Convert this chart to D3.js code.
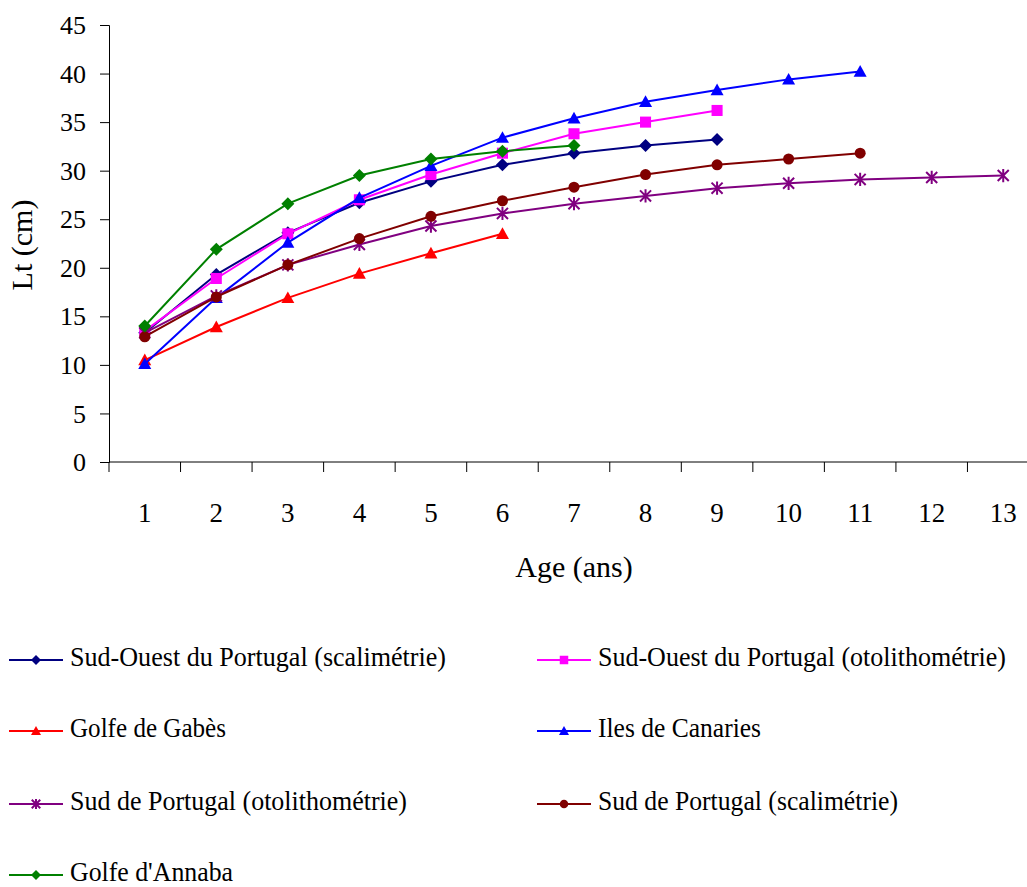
<!DOCTYPE html>
<html>
<head>
<meta charset="utf-8">
<script src="https://cdn.jsdelivr.net/npm/d3@7"></script>
<style>
  html, body { margin: 0; padding: 0; background: #fff; }
</style>
</head>
<body>
<svg id="chart" width="1027" height="887"></svg>
<script>
// Ages (years)
const ages = [1, 2, 3, 4, 5, 6, 7, 8, 9, 10, 11, 12, 13];
const yTicks = [0, 5, 10, 15, 20, 25, 30, 35, 40, 45];

// Total length (cm) at age, per study
const sudOuestScal  = [13.3, 19.3, 23.6, 26.7, 28.9, 30.6, 31.8, 32.6, 33.2];
const sudOuestOtol  = [13.5, 18.9, 23.5, 27.0, 29.6, 31.8, 33.8, 35.0, 36.2];
const gabes         = [10.5, 13.9, 16.9, 19.4, 21.5, 23.5];
const canaries      = [10.1, 16.9, 22.6, 27.2, 30.5, 33.4, 35.4, 37.1, 38.3, 39.4, 40.2];
const sudOtol       = [13.3, 17.1, 20.3, 22.4, 24.3, 25.6, 26.6, 27.4, 28.2, 28.7, 29.1, 29.3, 29.5];
const sudScal       = [12.9, 17.0, 20.3, 23.0, 25.3, 26.9, 28.3, 29.6, 30.6, 31.2, 31.8];
const annaba        = [14.0, 21.9, 26.6, 29.5, 31.2, 32.0, 32.6];

const seriesNames = [
  "Sud-Ouest du Portugal (scalimétrie)",
  "Sud-Ouest du Portugal (otolithométrie)",
  "Golfe de Gabès",
  "Iles de Canaries",
  "Sud de Portugal (otolithométrie)",
  "Sud de Portugal (scalimétrie)",
  "Golfe d'Annaba"
];
const seriesValues = [sudOuestScal, sudOuestOtol, gabes, canaries, sudOtol, sudScal, annaba];
const seriesColors = ["#000080", "#FF00FF", "#FF0000", "#0000FF", "#800080", "#800000", "#008000"];
const seriesMarkers = ["diamond", "square", "triangle", "triangle", "star", "circle", "diamond"];

const FONT = "'Liberation Serif', 'Times New Roman', serif";

const svg = d3.select("#chart");

const plot = { left: 109, top: 25, bottom: 462, right: 1039 };

const x = d3.scaleBand()
  .domain(ages)
  .range([plot.left, plot.right])
  .paddingInner(0).paddingOuter(0);

const y = d3.scaleLinear()
  .domain([0, 45])
  .range([plot.bottom, plot.top]);

// Y axis
const yAxis = svg.append("g")
  .attr("transform", `translate(${plot.left},0)`)
  .call(d3.axisLeft(y).tickValues(yTicks).tickSize(9).tickPadding(14).tickFormat(d3.format("d")));
yAxis.attr("font-family", null).attr("font-size", null);
yAxis.select(".domain").attr("stroke", "#000").attr("stroke-width", 1);
yAxis.selectAll(".tick line").attr("stroke", "#000");
yAxis.selectAll("text")
  .style("font-family", FONT).style("font-size", "26px")
  .attr("fill", "#000").attr("dy", "0.33em");

// X axis: category ticks sit at band boundaries, labels at band centres
const xAxisG = svg.append("g").attr("transform", `translate(0,${plot.bottom})`);
xAxisG.append("line")
  .attr("x1", plot.left).attr("x2", 1027)
  .attr("y1", 0).attr("y2", 0)
  .attr("stroke", "#000");
xAxisG.selectAll(".xtick").data(ages).enter().append("line")
  .attr("x1", d => x(d)).attr("x2", d => x(d))
  .attr("y1", 0).attr("y2", 10)
  .attr("stroke", "#000");
xAxisG.selectAll(".xlab").data(ages).enter().append("text")
  .attr("x", d => x(d) + x.bandwidth() / 2)
  .attr("y", 60)
  .attr("text-anchor", "middle")
  .style("font-family", FONT).style("font-size", "27px")
  .text(d => d);

// Axis titles
svg.append("text")
  .attr("x", 574).attr("y", 577)
  .attr("text-anchor", "middle")
  .style("font-family", FONT).style("font-size", "30px")
  .text("Age (ans)");
svg.append("text")
  .attr("transform", "translate(32,245) rotate(-90)")
  .attr("text-anchor", "middle")
  .style("font-family", FONT).style("font-size", "30px")
  .text("Lt (cm)");

// Marker drawing
function drawMarker(g, type, color, s) {
  if (type === "diamond") {
    g.append("path").attr("d", `M0,${-s}L${s},0L0,${s}L${-s},0Z`).attr("fill", color);
  } else if (type === "square") {
    const h = s * 0.85;
    g.append("rect").attr("x", -h).attr("y", -h).attr("width", 2 * h).attr("height", 2 * h).attr("fill", color);
  } else if (type === "triangle") {
    const h = s * 1.0;
    g.append("path").attr("d", `M0,${-h}L${h},${h * 0.8}L${-h},${h * 0.8}Z`).attr("fill", color);
  } else if (type === "circle") {
    g.append("circle").attr("r", s * 0.85).attr("fill", color);
  } else if (type === "star") {
    const h = s * 0.85;
    g.append("path")
      .attr("d", `M${-h},${-h}L${h},${h}M${h},${-h}L${-h},${h}M0,${-h * 1.2}L0,${h * 1.2}`)
      .attr("stroke", color).attr("stroke-width", 2).attr("fill", "none");
  }
}

const line = d3.line()
  .x((d, i) => x(ages[i]) + x.bandwidth() / 2)
  .y(d => y(d));

seriesValues.forEach((vals, k) => {
  const g = svg.append("g");
  g.append("path")
    .attr("d", line(vals))
    .attr("fill", "none")
    .attr("stroke", seriesColors[k])
    .attr("stroke-width", 2);
  vals.forEach((v, i) => {
    const m = g.append("g")
      .attr("transform", `translate(${x(ages[i]) + x.bandwidth() / 2},${y(v)})`);
    drawMarker(m, seriesMarkers[k], seriesColors[k], 6.5);
  });
});

// Legend
const legendCols = [9, 537];
const legendRows = [660, 731, 804, 875];
const legendWidths = [376, 408, 156, 163, 337, 300, 163];
seriesNames.forEach((name, k) => {
  const col = k % 2, row = Math.floor(k / 2);
  const lx = legendCols[col], ly = legendRows[row];
  const g = svg.append("g").attr("transform", `translate(${lx},${ly})`);
  g.append("line").attr("x1", 0).attr("x2", 54).attr("y1", 0).attr("y2", 0)
    .attr("stroke", seriesColors[k]).attr("stroke-width", 2);
  const m = g.append("g").attr("transform", "translate(27,0)");
  drawMarker(m, seriesMarkers[k], seriesColors[k], 5);
  g.append("text")
    .attr("x", 61).attr("y", 6)
    .attr("textLength", legendWidths[k]).attr("lengthAdjust", "spacingAndGlyphs")
    .style("font-family", FONT).style("font-size", "27px")
    .text(name);
});
</script>
</body>
</html>
